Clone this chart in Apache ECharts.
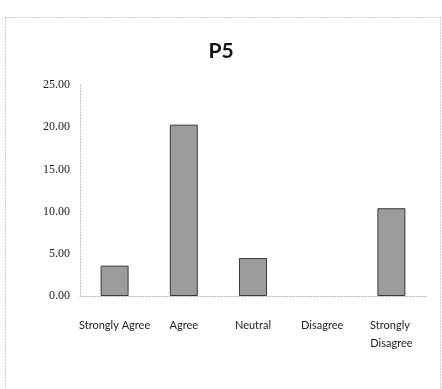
<!DOCTYPE html>
<html>
<head>
<meta charset="utf-8">
<script src="https://cdn.jsdelivr.net/npm/echarts@6/dist/echarts.min.js"></script>
<style>
  html, body { margin: 0; padding: 0; background: #fff; }
  #chart { width: 442px; height: 389px; }
</style>
</head>
<body>
<div id="chart"></div>
<script>
const categories = ['Strongly Agree', 'Agree', 'Neutral', 'Disagree', 'Strongly Disagree'];
const values = [3.6, 20.3, 4.5, 0, 10.4];
const yTicks = [0, 5, 10, 15, 20, 25];

// zero-height bar: no outline, like the original
const barData = values.map(v => v === 0 ? { value: v, itemStyle: { borderWidth: 0 } } : v);

const chart = echarts.init(document.getElementById('chart'));

chart.setOption({
  backgroundColor: '#fff',
  animation: false,
  title: {
    text: 'P5',
    left: 'center',
    top: 36,
    textStyle: { fontFamily: 'Lato', fontWeight: 'bold', fontSize: 21, color: '#111' }
  },
  graphic: [{
    type: 'rect',
    shape: { x: 5.5, y: 17.5, width: 435, height: 380 },
    style: { fill: 'none', stroke: '#999', lineWidth: 1, lineDash: [1, 2] },
    silent: true
  }],
  grid: { left: 80, right: 16, top: 85, bottom: 93 },
  xAxis: {
    type: 'category',
    data: categories,
    axisTick: { show: false },
    axisLine: { show: true, lineStyle: { color: '#aaa', type: [1, 2], width: 1 } },
    axisLabel: {
      margin: 20,
      fontFamily: 'Lato',
      fontSize: 11,
      color: '#222',
      lineHeight: 18,
      width: 76,
      overflow: 'break',
      interval: 0
    }
  },
  yAxis: {
    type: 'value',
    min: yTicks[0],
    max: yTicks[yTicks.length - 1],
    interval: 5,
    splitLine: { show: false },
    axisTick: { show: false },
    axisLine: { show: true, lineStyle: { color: '#bbb', type: [1, 2], width: 1 } },
    axisLabel: {
      margin: 10,
      fontFamily: 'Liberation Serif',
      fontSize: 12,
      color: '#222',
      formatter: v => v.toFixed(2)
    }
  },
  series: [{
    type: 'bar',
    data: barData,
    barWidth: 28,
    itemStyle: {
      color: '#9c9c9c',
      borderColor: '#3a3a3a',
      borderWidth: 1
    }
  }]
});
</script>
</body>
</html>
